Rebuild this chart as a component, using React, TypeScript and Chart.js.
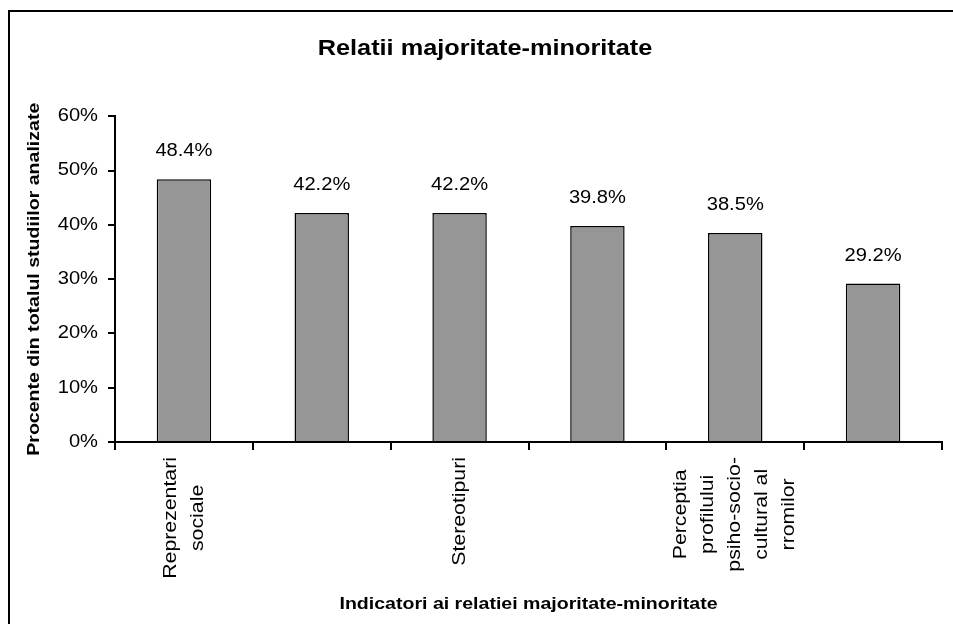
import { useEffect, useRef } from 'react';
import { Chart, registerables } from 'chart.js';

Chart.register(...registerables);

const TITLE = 'Relatii majoritate-minoritate';
const Y_TITLE = 'Procente din totalul studiilor analizate';
const X_TITLE = 'Indicatori ai relatiei majoritate-minoritate';

const CATEGORIES: string[][] = [
  ['Reprezentari', 'sociale'],
  [''],
  ['Stereotipuri'],
  [''],
  ['Perceptia', 'profilului', 'psiho-socio-', 'cultural al', 'rromilor'],
  [''],
];
const VALUES: number[] = [48.4, 42.2, 42.2, 39.8, 38.5, 29.2];
const Y_TICKS: number[] = [0, 10, 20, 30, 40, 50, 60];

const FONT = '"Liberation Sans", Arial, sans-serif';
const STRETCH = 1.15;
const X_LABEL_SIZE = 18.5;
const X_LABEL_LINE = 27;

function stretchText(ctx: any, sx: number) {
  if (ctx.__stretched) return;
  ctx.__stretched = true;
  const fill = ctx.fillText.bind(ctx);
  const measure = ctx.measureText.bind(ctx);
  ctx.fillText = (t: string, x: number, y: number, mw?: number) => {
    ctx.save();
    ctx.translate(x, y);
    ctx.scale(sx, 1);
    if (mw === undefined || mw === null) fill(t, 0, 0);
    else fill(t, 0, 0, mw / sx);
    ctx.restore();
  };
  ctx.measureText = (t: string) => {
    const m = measure(t);
    return {
      width: m.width * sx,
      actualBoundingBoxLeft: m.actualBoundingBoxLeft * sx,
      actualBoundingBoxRight: m.actualBoundingBoxRight * sx,
      actualBoundingBoxAscent: m.actualBoundingBoxAscent,
      actualBoundingBoxDescent: m.actualBoundingBoxDescent,
      fontBoundingBoxAscent: m.fontBoundingBoxAscent,
      fontBoundingBoxDescent: m.fontBoundingBoxDescent,
    };
  };
}

const xLabelPlugin = {
  id: 'xLabels',
  afterDraw(chart: any) {
    const xs = chart.scales.x;
    const ctx = chart.ctx;
    ctx.save();
    ctx.font = `${X_LABEL_SIZE}px ${FONT}`;
    ctx.fillStyle = '#000';
    ctx.textAlign = 'center';
    ctx.textBaseline = 'middle';
    CATEGORIES.forEach((lines, i) => {
      const filled = lines.filter((l) => l);
      if (!filled.length) return;
      const x = xs.getPixelForTick(i);
      const maxW = Math.max(...filled.map((l) => ctx.measureText(l).width));
      const cy = xs.top + 15 + maxW / 2;
      ctx.save();
      ctx.translate(x, cy);
      ctx.rotate(-Math.PI / 2);
      filled.forEach((l, j) => {
        ctx.fillText(l, 0, (j - (filled.length - 1) / 2) * X_LABEL_LINE);
      });
      ctx.restore();
    });
    ctx.restore();
  },
};

const valueLabelPlugin = {
  id: 'valueLabels',
  afterDatasetsDraw(chart: any) {
    const ctx = chart.ctx;
    const meta = chart.getDatasetMeta(0);
    ctx.save();
    ctx.font = `17.5px ${FONT}`;
    ctx.fillStyle = '#000';
    ctx.textAlign = 'center';
    ctx.textBaseline = 'alphabetic';
    meta.data.forEach((bar: any, i: number) => {
      const p = bar.getProps(['x', 'y'], true);
      ctx.fillText(VALUES[i].toFixed(1) + '%', p.x, p.y - 23);
    });
    ctx.restore();
  },
};

export default function App() {
  const ref = useRef<HTMLCanvasElement>(null);

  useEffect(() => {
    const canvas = ref.current;
    if (!canvas) return;
    const ctx = canvas.getContext('2d');
    stretchText(ctx, STRETCH);
    Chart.defaults.font.family = FONT;
    const chart = new Chart(canvas, {
      type: 'bar',
      data: {
        labels: CATEGORIES,
        datasets: [
          {
            data: VALUES,
            backgroundColor: '#969696',
            borderColor: '#000',
            borderWidth: 1.5,
            barPercentage: 0.395,
            categoryPercentage: 1,
          },
        ],
      },
      options: {
        responsive: false,
        animation: false,
        layout: { padding: { left: 18, right: 11, top: 0, bottom: 0 } },
        plugins: {
          legend: { display: false },
          tooltip: { enabled: false },
          title: {
            display: true,
            text: TITLE,
            color: '#000',
            font: { size: 22, weight: 'bold', family: FONT },
            padding: { top: 24, bottom: 54 },
          },
        },
        scales: {
          x: {
            offset: true,
            grid: {
              offset: true,
              drawOnChartArea: false,
              drawTicks: true,
              tickLength: 8,
              color: '#000',
              lineWidth: 2,
            },
            border: { display: true, color: '#000', width: 2 },
            ticks: { display: false },
            title: {
              display: true,
              text: X_TITLE,
              color: '#000',
              font: { size: 17, weight: 'bold', family: FONT },
              padding: { top: 0, bottom: 9 },
            },
            afterFit: (s: any) => {
              s.height = 182;
            },
          },
          y: {
            min: 0,
            max: 60,
            afterBuildTicks: (s: any) => {
              s.ticks = Y_TICKS.map((v) => ({ value: v }));
            },
            ticks: {
              callback: (v: any) => v + '%',
              color: '#000',
              font: { size: 17.5, family: FONT },
              padding: 10,
            },
            grid: {
              drawOnChartArea: false,
              drawTicks: true,
              tickLength: 7,
              color: '#000',
              lineWidth: 2,
            },
            border: { display: true, color: '#000', width: 2 },
            title: {
              display: true,
              text: Y_TITLE,
              color: '#000',
              font: { size: 17, weight: 'bold', family: FONT },
              padding: { top: -4, bottom: 0 },
            },
            afterFit: (s: any) => {
              s.width = 87;
            },
          },
        },
      },
      plugins: [xLabelPlugin, valueLabelPlugin],
    } as any);
    return () => chart.destroy();
  }, []);

  return (
    <div
      style={{
        position: 'fixed',
        left: 8,
        top: 10,
        borderLeft: '2px solid #000',
        borderTop: '2px solid #000',
        background: '#fff',
      }}
    >
      <canvas ref={ref} width={943} height={612} style={{ display: 'block' }} />
    </div>
  );
}
